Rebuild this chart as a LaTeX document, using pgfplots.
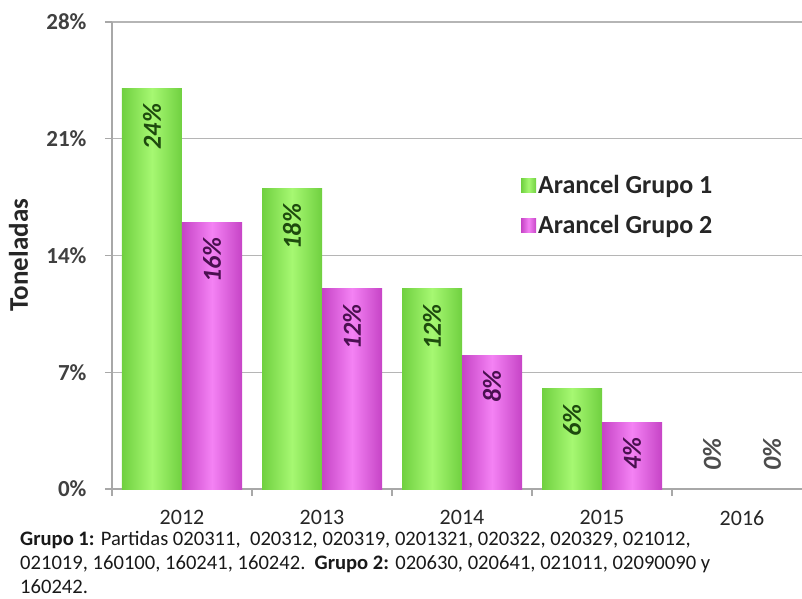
\documentclass[border=0pt]{standalone}
\usepackage{fontspec}
\setmainfont{Carlito}
\usepackage{pgfplots}
\pgfplotsset{compat=1.18}

\definecolor{gEdge}{HTML}{70D040}
\definecolor{gMid}{HTML}{A6F872}
\definecolor{mEdge}{HTML}{C644C6}
\definecolor{mMid}{HTML}{F482F4}
\definecolor{gText}{HTML}{1E4A0E}
\definecolor{mText}{HTML}{4A1050}
\definecolor{axisGray}{HTML}{A8A8A8}
\definecolor{tickText}{HTML}{404040}

% one shaded bar per value, so that each bar carries its own cylinder shading
\pgfplotsset{
  grupoA/.style={bar shift=-30pt, draw=none,
    left color=gEdge, right color=gEdge, middle color=gMid,
    every node near coord/.append style={text=gText}},
  grupoB/.style={bar shift=30pt, draw=none,
    left color=mEdge, right color=mEdge, middle color=mMid,
    every node near coord/.append style={text=mText}},
  cero/.style={draw=none, fill=none,
    every node near coord/.append style={anchor=west, inner xsep=18pt, text=black!70}},
}

\begin{document}
\begin{tikzpicture}
\begin{axis}[
  scale only axis, width=700pt, height=467pt,
  xmin=-0.5, xmax=4.5, ymin=0, ymax=28,
  ybar, bar width=60pt,
  axis lines*=left,
  axis line style={axisGray, line width=1.5pt},
  ymajorgrids, grid style={axisGray!85, line width=1.3pt},
  ytick={0,7,14,21,28},
  yticklabels={0\%,7\%,14\%,21\%,28\%},
  xtick={0,1,2,3,4},
  xticklabels={2012,2013,2014,2015,2016},
  minor xtick={-0.5,0.5,1.5,2.5,3.5,4.5},
  tick align=outside,
  major tick length=7pt, minor tick length=7pt,
  major x tick style={draw=none},
  minor x tick style={axisGray, line width=1.3pt},
  y tick style={axisGray, line width=1.3pt},
  yticklabel style={font=\fontsize{23}{23}\selectfont\bfseries, text=tickText, xshift=-15pt},
  xticklabel style={font=\fontsize{22}{22}\selectfont, text=black!85, yshift=-11pt},
  /pgf/number format/assume math mode=true,
  nodes near coords={\pgfmathprintnumber{\pgfplotspointmeta}\%},
  every node near coord/.append style={rotate=90, anchor=east, inner xsep=15pt,
    font=\fontsize{26}{26}\selectfont\bfseries\itshape},
  legend style={at={(0.58,0.68)}, anchor=north west, draw=none, fill=none,
    font=\fontsize{26}{26}\selectfont\bfseries, text=black!85, row sep=16pt},
  legend cell align=left,
  legend image code/.code={\fill[#1] (0pt,-7pt) rectangle (15pt,7pt);},
  clip=false,
]
% 2012
\addplot[grupoA] coordinates {(0,24)};
\addlegendentry{Arancel Grupo 1}
\addplot[grupoB] coordinates {(0,16)};
\addlegendentry{Arancel Grupo 2}
% 2013
\addplot[grupoA, forget plot] coordinates {(1,18)};
\addplot[grupoB, forget plot] coordinates {(1,12)};
% 2014
\addplot[grupoA, forget plot] coordinates {(2,12)};
\addplot[grupoB, forget plot] coordinates {(2,8)};
% 2015
\addplot[grupoA, forget plot] coordinates {(3,6)};
\addplot[grupoB, forget plot] coordinates {(3,4)};
% 2016: no bars, only the zero labels
\addplot[cero, bar shift=-30pt, forget plot] coordinates {(4,0)};
\addplot[cero, bar shift=30pt, forget plot] coordinates {(4,0)};
\end{axis}

\node[rotate=90, anchor=base, font=\fontsize{27}{27}\selectfont\bfseries, text=black!85]
  at (-84pt,234pt) {Toneladas};

\begin{scope}[every node/.style={anchor=base west, inner sep=0pt, font=\fontsize{20.6}{20.6}\selectfont, text=black!90}]
\node at (-92pt,-56pt) {\textbf{Grupo 1:} Partidas 020311,\ \ 020312, 020319, 0201321, 020322, 020329, 021012,};
\node at (-92pt,-80pt) {021019, 160100, 160241, 160242.\ \ \textbf{Grupo 2:} 020630, 020641, 021011, 02090090 y};
\node at (-92pt,-104pt) {160242.};
\end{scope}

\pgfresetboundingbox
\useasboundingbox (-112pt,-109pt) rectangle (690pt,489pt);
\end{tikzpicture}
\end{document}
